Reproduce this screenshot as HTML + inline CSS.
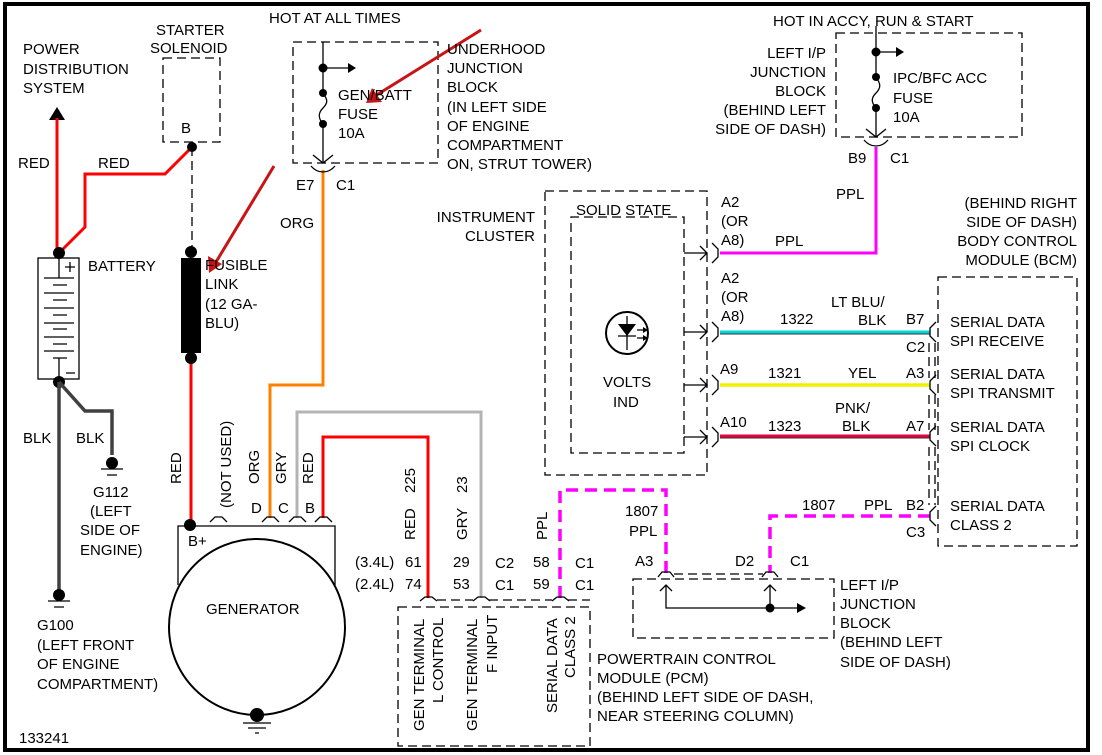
<!DOCTYPE html>
<html><head><meta charset="utf-8"><style>
html,body{margin:0;padding:0;background:#fff;}
svg{display:block;}
text{font-family:"Liberation Sans",Arial,sans-serif;font-size:15px;fill:#000;}
</style></head><body>
<svg width="1102" height="755" viewBox="0 0 1102 755" xmlns="http://www.w3.org/2000/svg">
<rect x="0" y="0" width="1102" height="755" fill="#fff"/>
<rect x="5" y="4" width="1083" height="746" fill="none" stroke="#000" stroke-width="4"/>

<g fill="none" stroke="#000" stroke-width="1.3" stroke-dasharray="9,5">
  <rect x="163" y="58" width="57" height="84"/>
  <rect x="293" y="42" width="145" height="121"/>
  <rect x="836" y="33" width="186" height="104"/>
  <rect x="545" y="191" width="162" height="284"/>
  <path d="M684,437 V453 H571 V217 H684 V437"/>
  <rect x="938" y="277" width="139" height="269"/>
  <rect x="633" y="579" width="201" height="59"/>
  <rect x="398" y="607" width="192" height="139"/>
  <path d="M192,147 V252"/>
  <path d="M437,600 H473 M489,600 H552 M568,600 H590"/>
  <path d="M674,574 H763"/>
  <path d="M929,343 V378 M935,343 V378 M929,395 V430 M935,395 V430 M929,447 V505 M935,447 V505"/>
</g>

<!-- power arrow and red wires -->
<polygon points="57,107 49,120 65,120" fill="#000"/>
<g fill="none" stroke="#f00" stroke-width="3">
  <path d="M57,118 V252"/>
  <path d="M59,253 L85,227 V174 H165 L192,147"/>
  <path d="M191,358 V525"/>
  <path d="M323,518 V437 H428 V598"/>
</g>
<path d="M270,518 V385 H323 V170" fill="none" stroke="#ff8000" stroke-width="3"/>
<path d="M297,518 V412 H481 V598" fill="none" stroke="#b4b4b4" stroke-width="3"/>
<path d="M876,147 V253 H720" fill="none" stroke="#f0f" stroke-width="3"/>
<path d="M720,332 H930" stroke="#00d8d8" stroke-width="3"/>
<path d="M720,334 H930" stroke="#333" stroke-width="1"/>
<path d="M720,385 H930" stroke="#f0f000" stroke-width="3.5"/>
<path d="M720,436 H930" stroke="#e8003c" stroke-width="3"/>
<path d="M720,438 H930" stroke="#333" stroke-width="1"/>
<g fill="none" stroke="#f0f" stroke-width="3.5" stroke-dasharray="12,7">
  <path d="M560,598 V490 H666 V573"/>
  <path d="M930,516 H770 V573"/>
</g>

<!-- battery -->
<rect x="38" y="258" width="41" height="121" fill="none" stroke="#000" stroke-width="1.3"/>
<g stroke="#000" stroke-width="1.3">
  <path d="M59,258 V278 M44,278 H74 M53,285 H67 M44,293 H74 M53,300 H67 M44,308 H74 M53,315 H67 M44,323 H74 M53,329 H67 M44,337 H74 M53,344 H67 M44,351 H74 M53,358 H67 M59,358 V379"/>
  <path d="M65,267 H75 M70,262 V272 M66,373 H75"/>
</g>
<circle cx="59" cy="253" r="6" fill="#000"/>
<circle cx="59" cy="382" r="6" fill="#000"/>
<g fill="none" stroke="#404040" stroke-width="3.5">
  <path d="M59,382 V590"/>
  <path d="M59,382 L85,411 H112 V455"/>
</g>
<!-- grounds -->
<g stroke="#000" stroke-width="1.3">
  <path d="M101,469 H123 M107,475 H117"/>
  <path d="M48,601 H70 M54,607 H64"/>
  <path d="M243,723 H271 M248,728 H266 M255,733 H259"/>
</g>
<circle cx="112" cy="463" r="6" fill="#000"/>
<circle cx="59" cy="595" r="6" fill="#000"/>

<!-- fusible link -->
<rect x="181" y="258" width="20" height="95" fill="#000"/>
<circle cx="191" cy="252" r="6" fill="#000"/>
<circle cx="191" cy="358" r="6" fill="#000"/>
<circle cx="192" cy="147" r="5" fill="#000"/>

<!-- underhood fuse -->
<g fill="none" stroke="#000" stroke-width="1.3">
  <path d="M323,42 V93 M323,124 V163 M323,93 C328,100 328,103 323,108 C318,113 318,118 323,124"/>
  <path d="M323,68 H348"/>
  <path d="M313,155 L323,163 L333,155"/>
  <path d="M311,166 Q316,172 323,172 Q330,172 335,166"/>
  <path d="M876,26 V77 M876,108 V137 M876,77 C881,84 881,88 876,93 C871,98 871,102 876,108"/>
  <path d="M876,52 H896"/>
  <path d="M866,129 L876,137 L886,129"/>
  <path d="M864,140 Q869,146 876,146 Q883,146 888,140"/>
</g>
<circle cx="323" cy="68" r="4.5" fill="#000"/><circle cx="323" cy="93" r="4" fill="#000"/><circle cx="323" cy="124" r="4" fill="#000"/>
<polygon points="348,63 356,68 348,73" fill="#000"/>
<circle cx="876" cy="52" r="4.5" fill="#000"/><circle cx="876" cy="77" r="4" fill="#000"/><circle cx="876" cy="108" r="4" fill="#000"/>
<polygon points="896,47 904,52 896,57" fill="#000"/>

<!-- cluster arrows & connectors -->
<g fill="none" stroke="#000" stroke-width="1.3">
  <path d="M684,253 H707 M700,246 L707,253 L700,260"/>
  <path d="M684,332 H707 M700,325 L707,332 L700,339"/>
  <path d="M684,385 H707 M700,378 L707,385 L700,392"/>
  <path d="M684,437 H707 M700,430 L707,437 L700,444"/>
  <path d="M712,243 L718,249 V257 L712,263 M712,322 L718,328 V336 L712,342 M712,375 L718,381 V389 L712,395 M712,427 L718,433 V441 L712,447"/>
  <path d="M936,322 L930,328 V336 L936,342 M936,375 L930,381 V389 L936,395 M936,426 L930,432 V440 L936,446 M936,506 L930,512 V520 L936,526"/>
  <circle cx="627" cy="333" r="21" stroke-width="2"/>
  <path d="M627,316 V350 M618,336 H636"/>
  <path d="M637,330 H645 M637,338 H645"/>
</g>
<polygon points="618,324 636,324 627,336" fill="#000"/>
<polygon points="643,327 648,330 643,333" fill="#000"/><polygon points="643,335 648,338 643,341" fill="#000"/>

<!-- left I/P block bottom -->
<g fill="none" stroke="#000" stroke-width="1.3">
  <path d="M658,577 L662,572 H670 L674,577 M762,577 L766,572 H774 L778,577"/>
  <path d="M666,585 V608 H797 M770,585 V608"/>
  <path d="M660,591 L666,585 L672,591 M764,591 L770,585 L776,591"/>
  <!-- PCM humps -->
  <path d="M420,601 L425,597 H432 L437,601 M473,601 L478,597 H485 L490,601 M552,601 L557,597 H564 L569,601"/>
  <!-- generator humps -->
  <path d="M210,522 L215,517 H222 L227,522 M262,522 L267,517 H274 L279,522 M289,522 L294,517 H301 L306,522 M315,522 L320,517 H327 L332,522"/>
  <!-- generator -->
  <path d="M178,585 V526 H335 V585"/>
</g>
<circle cx="770" cy="608" r="4.5" fill="#000"/>
<polygon points="797,603 806,608 797,613" fill="#000"/>
<circle cx="257" cy="627" r="88" fill="#fff" stroke="#000" stroke-width="2"/>
<circle cx="190" cy="525" r="6" fill="#000"/>
<circle cx="257" cy="715" r="7" fill="#000"/>

<!-- red annotation arrows -->
<g stroke="#c81414" stroke-width="3" fill="none">
  <path d="M481,30 L375,96"/>
  <path d="M274,166 L216,262"/>
</g>
<polygon points="366,103 372,88 382,102" fill="#c81414"/>
<polygon points="209,273 208,256 222,264" fill="#c81414"/>

<!-- texts -->
<text x="23" y="54">POWER</text><text x="23" y="74">DISTRIBUTION</text><text x="23" y="93">SYSTEM</text>
<text x="18" y="168">RED</text><text x="98" y="168">RED</text>
<text x="156" y="35">STARTER</text><text x="150" y="53">SOLENOID</text>
<text x="181" y="133">B</text>
<text x="269" y="23">HOT AT ALL TIMES</text>
<text x="338" y="100">GEN/BATT</text><text x="338" y="119">FUSE</text><text x="338" y="138">10A</text>
<text x="447" y="54">UNDERHOOD</text><text x="447" y="73">JUNCTION</text><text x="447" y="92">BLOCK</text><text x="447" y="112">(IN LEFT SIDE</text><text x="447" y="131">OF ENGINE</text><text x="447" y="150">COMPARTMENT</text><text x="447" y="169">ON, STRUT TOWER)</text>
<text x="296" y="190">E7</text><text x="336" y="190">C1</text>
<text x="280" y="228">ORG</text>
<text x="88" y="271">BATTERY</text>
<text x="205" y="270">FUSIBLE</text><text x="205" y="289">LINK</text><text x="205" y="309">(12 GA-</text><text x="205" y="328">BLU)</text>
<text x="23" y="443">BLK</text><text x="76" y="443">BLK</text>
<text x="93" y="497">G112</text><text x="90" y="516">(LEFT</text><text x="80" y="535">SIDE OF</text><text x="80" y="555">ENGINE)</text>
<text x="37" y="630">G100</text><text x="37" y="650">(LEFT FRONT</text><text x="37" y="669">OF ENGINE</text><text x="37" y="689">COMPARTMENT)</text>
<text x="19" y="743">133241</text>
<text x="188" y="546">B+</text>
<text x="206" y="614">GENERATOR</text>
<text x="251" y="513">D</text><text x="278" y="513">C</text><text x="305" y="513">B</text>
<text transform="translate(181,484) rotate(-90)">RED</text>
<text transform="translate(231,508) rotate(-90)">(NOT USED)</text>
<text transform="translate(259,484) rotate(-90)">ORG</text>
<text transform="translate(286,484) rotate(-90)">GRY</text>
<text transform="translate(313,484) rotate(-90)">RED</text>
<text transform="translate(415,540) rotate(-90)">RED</text>
<text transform="translate(415,493) rotate(-90)">225</text>
<text transform="translate(467,540) rotate(-90)">GRY</text>
<text transform="translate(467,493) rotate(-90)">23</text>
<text transform="translate(547,540) rotate(-90)">PPL</text>
<text x="355" y="567">(3.4L)</text><text x="405" y="567">61</text><text x="453" y="567">29</text><text x="495" y="568">C2</text><text x="533" y="567">58</text><text x="575" y="568">C1</text>
<text x="355" y="589">(2.4L)</text><text x="405" y="589">74</text><text x="453" y="589">53</text><text x="495" y="590">C1</text><text x="533" y="589">59</text><text x="575" y="590">C1</text>
<text transform="translate(424,731) rotate(-90)">GEN TERMINAL</text>
<text transform="translate(443,703) rotate(-90)">L CONTROL</text>
<text transform="translate(477,731) rotate(-90)">GEN TERMINAL</text>
<text transform="translate(497,673) rotate(-90)">F INPUT</text>
<text transform="translate(557,713) rotate(-90)">SERIAL DATA</text>
<text transform="translate(575,678) rotate(-90)">CLASS 2</text>
<text x="597" y="664">POWERTRAIN CONTROL</text><text x="597" y="683">MODULE (PCM)</text><text x="597" y="702">(BEHIND LEFT SIDE OF DASH,</text><text x="597" y="721">NEAR STEERING COLUMN)</text>
<text x="625" y="516">1807</text><text x="629" y="536">PPL</text>
<text x="635" y="566">A3</text><text x="735" y="566">D2</text><text x="790" y="566">C1</text>
<text x="840" y="590">LEFT I/P</text><text x="840" y="609">JUNCTION</text><text x="840" y="628">BLOCK</text><text x="840" y="647">(BEHIND LEFT</text><text x="840" y="667">SIDE OF DASH)</text>
<text x="535" y="222" text-anchor="end">INSTRUMENT</text><text x="535" y="241" text-anchor="end">CLUSTER</text>
<text x="576" y="215">SOLID STATE</text>
<text x="603" y="387">VOLTS</text><text x="613" y="407">IND</text>
<text x="773" y="26">HOT IN ACCY, RUN &amp; START</text>
<text x="826" y="58" text-anchor="end">LEFT I/P</text><text x="826" y="77" text-anchor="end">JUNCTION</text><text x="826" y="96" text-anchor="end">BLOCK</text><text x="826" y="115" text-anchor="end">(BEHIND LEFT</text><text x="826" y="134" text-anchor="end">SIDE OF DASH)</text>
<text x="893" y="83">IPC/BFC ACC</text><text x="893" y="103">FUSE</text><text x="893" y="122">10A</text>
<text x="848" y="163">B9</text><text x="890" y="163">C1</text>
<text x="836" y="199">PPL</text>
<text x="721" y="207">A2</text><text x="721" y="226">(OR</text><text x="721" y="245">A8)</text>
<text x="775" y="246">PPL</text>
<text x="721" y="283">A2</text><text x="721" y="302">(OR</text><text x="721" y="321">A8)</text>
<text x="780" y="324">1322</text><text x="831" y="307">LT BLU/</text><text x="858" y="325">BLK</text>
<text x="906" y="324">B7</text><text x="906" y="352">C2</text>
<text x="720" y="374">A9</text><text x="768" y="378">1321</text><text x="848" y="378">YEL</text><text x="906" y="378">A3</text>
<text x="720" y="427">A10</text><text x="768" y="431">1323</text><text x="835" y="413">PNK/</text><text x="842" y="431">BLK</text><text x="906" y="431">A7</text>
<text x="802" y="510">1807</text><text x="864" y="510">PPL</text><text x="906" y="510">B2</text><text x="906" y="537">C3</text>
<text x="1077" y="208" text-anchor="end">(BEHIND RIGHT</text><text x="1077" y="227" text-anchor="end">SIDE OF DASH)</text><text x="1077" y="246" text-anchor="end">BODY CONTROL</text><text x="1077" y="265" text-anchor="end">MODULE (BCM)</text>
<text x="950" y="327">SERIAL DATA</text><text x="950" y="346">SPI RECEIVE</text>
<text x="950" y="379">SERIAL DATA</text><text x="950" y="398">SPI TRANSMIT</text>
<text x="950" y="432">SERIAL DATA</text><text x="950" y="451">SPI CLOCK</text>
<text x="950" y="511">SERIAL DATA</text><text x="950" y="530">CLASS 2</text>
</svg>
</body></html>
